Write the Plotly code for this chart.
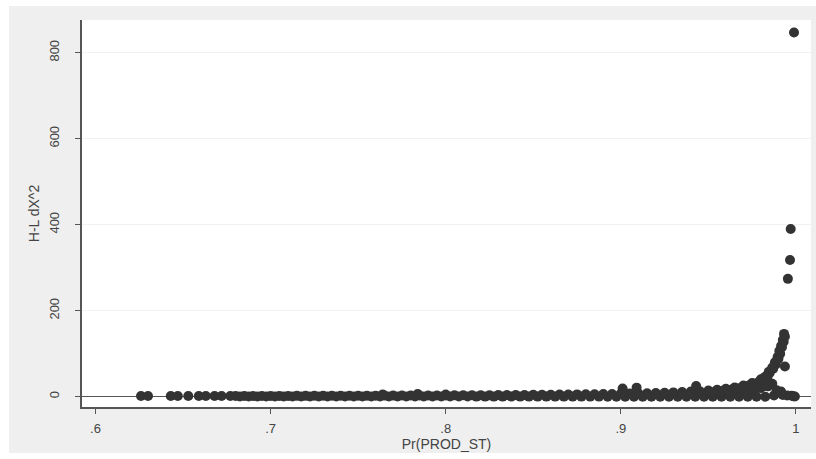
import plotly.graph_objects as go

# ---- data ----
left_x = [0.626, 0.630, 0.643, 0.647, 0.653, 0.659, 0.663, 0.668, 0.672, 0.677]
left_y = [1.5, 1.5, 1.5, 1.5, 1.6, 1.6, 1.6, 1.6, 1.6, 1.6]

upper_x = [0.680, 0.685, 0.690, 0.695, 0.700, 0.705, 0.710, 0.715, 0.720, 0.725,
           0.730, 0.735, 0.740, 0.745, 0.750, 0.755, 0.760, 0.765, 0.770, 0.775,
           0.780, 0.785, 0.790, 0.795, 0.800, 0.805, 0.810, 0.815, 0.820, 0.825,
           0.830, 0.835, 0.840, 0.845, 0.850, 0.855, 0.860, 0.865, 0.870, 0.875,
           0.880, 0.885, 0.890, 0.895, 0.900, 0.905, 0.910, 0.915, 0.920, 0.925,
           0.930, 0.935, 0.940, 0.945, 0.950, 0.955, 0.960, 0.965, 0.970, 0.975,
           0.980, 0.982, 0.9835, 0.985, 0.987, 0.9885, 0.990, 0.991, 0.992, 0.993, 0.9937]
upper_y = [1.6, 1.6, 1.7, 1.7, 1.8, 1.8, 1.8, 1.9, 1.9, 2.0,
           2.0, 2.1, 2.1, 2.2, 2.3, 2.3, 2.4, 2.5, 2.5, 2.6,
           2.7, 2.8, 2.9, 2.9, 3.0, 3.1, 3.2, 3.3, 3.4, 3.5,
           3.7, 3.8, 3.9, 4.1, 4.3, 4.4, 4.6, 4.8, 5.0, 5.3,
           5.5, 5.8, 6.1, 6.4, 6.8, 7.2, 7.6, 8.1, 8.6, 9.3,
           10.0, 10.8, 11.8, 12.9, 14.3, 16.0, 18.5, 21.5, 26.0, 32.0,
           40.5, 45.0, 50.0, 55.0, 65.0, 75.0, 88.0, 100.0, 115.0, 128.0, 140.0]

curve2_x = [0.9845, 0.9865, 0.9880, 0.9895, 0.9905, 0.9915, 0.9925, 0.9932]
curve2_y = [58, 68, 80, 92, 106, 118, 132, 146]

fill_x = [0.950, 0.955, 0.960, 0.965, 0.970, 0.975, 0.980, 0.984,
          0.9525, 0.9575, 0.9625, 0.9675, 0.9725, 0.9775, 0.9825, 0.9865,
          0.989, 0.9915, 0.9937]
fill_y = [7, 8, 9, 11, 13, 16, 20, 24,
          10, 12, 14, 17, 20, 25, 32, 30,
          15, 12, 70]

fill2_x = [0.9512, 0.9537, 0.9562, 0.9587, 0.9612, 0.9637, 0.9662, 0.9687, 0.9712, 0.9737,
           0.9762, 0.9787, 0.9812, 0.9837]
fill2_y = [5, 5, 6, 7, 8, 9, 10, 12, 14, 16, 18, 21, 24, 28]
fill3_y = [10, 11, 12, 14, 15, 17, 19, 21, 24, 27, 30, 34, 38, 44]

lower_x = [0.6825, 0.6875, 0.6925, 0.6975, 0.7025, 0.7075, 0.7125, 0.7175, 0.7225, 0.7275,
           0.7325, 0.7375, 0.7425, 0.7475, 0.7525, 0.7575, 0.7625, 0.7675, 0.7725, 0.7775,
           0.7825, 0.7875, 0.7925, 0.7975, 0.8025, 0.8075, 0.8125, 0.8175, 0.8225, 0.8275,
           0.8325, 0.8375, 0.8425, 0.8475, 0.8525, 0.8575, 0.8625, 0.8675, 0.8725, 0.8775,
           0.8825, 0.8875, 0.8925, 0.8975, 0.9025, 0.9075, 0.9125, 0.9175, 0.9225, 0.9275,
           0.9325, 0.9375, 0.9425, 0.9475, 0.9525, 0.9575, 0.9625, 0.9675, 0.9725, 0.9775,
           0.9825, 0.9875, 0.9925, 0.995, 0.9975, 0.9985, 0.9994]
lower_y = [0.47, 0.45, 0.44, 0.43, 0.42, 0.41, 0.40, 0.39, 0.38, 0.37,
           0.36, 0.35, 0.34, 0.33, 0.33, 0.32, 0.31, 0.30, 0.29, 0.28,
           0.28, 0.27, 0.26, 0.25, 0.25, 0.24, 0.23, 0.22, 0.21, 0.21,
           0.20, 0.19, 0.19, 0.18, 0.17, 0.17, 0.16, 0.15, 0.15, 0.14,
           0.13, 0.13, 0.12, 0.11, 0.11, 0.10, 0.10, 0.09, 0.08, 0.08,
           0.07, 0.07, 0.06, 0.06, 0.05, 0.04, 0.04, 0.03, 0.03, 0.02,
           0.02, 3.0, 4.0, 3.0, 2.0, 1.0, 0.5]

bump_x = [0.764, 0.784, 0.800, 0.901, 0.909, 0.943]
bump_y = [5, 6, 5, 19, 21, 25]

outlier_x = [0.9954, 0.9966, 0.9970, 0.9989]
outlier_y = [274, 318, 390, 847]

x_ticks = [0.6, 0.7, 0.8, 0.9, 1.0]
x_tick_labels = [".6", ".7", ".8", ".9", "1"]
y_ticks = [0, 200, 400, 600, 800]
y_tick_labels = ["0", "200", "400", "600", "800"]

MARK = "#333333"
fig = go.Figure()
for xs, ys in [(left_x, left_y), (lower_x, lower_y), (upper_x, upper_y),
               (curve2_x, curve2_y), (fill_x, fill_y), (fill2_x, fill2_y),
               (fill2_x, fill3_y), (bump_x, bump_y), (outlier_x, outlier_y)]:
    fig.add_trace(go.Scatter(x=xs, y=ys, mode="markers", showlegend=False,
                             marker=dict(size=10, color=MARK, line=dict(width=0))))

L, T, W, H = 82, 20, 729, 387
def px(x):
    return (x - L) / W
def py(y):
    return (T + H - y) / H

fig.update_layout(
    width=816, height=459,
    margin=dict(l=L, r=816 - L - W, t=T, b=459 - T - H),
    paper_bgcolor="white", plot_bgcolor="white",
    font=dict(family="Liberation Sans, Arial, sans-serif", color="#444444", size=13),
    shapes=[
        dict(type="rect", xref="paper", yref="paper", layer="below",
             x0=px(9), x1=px(816), y0=py(453), y1=py(6),
             fillcolor="#efefef", line=dict(width=0)),
        dict(type="rect", xref="paper", yref="paper", layer="below",
             x0=0, x1=1, y0=0, y1=1, fillcolor="white", line=dict(width=0)),
    ],
)
fig.update_xaxes(
    range=[0.5923, 1.0086], tickvals=x_ticks, ticktext=x_tick_labels,
    showgrid=False, zeroline=False, showline=True, linecolor="#555555", linewidth=1.5,
    ticks="outside", ticklen=5, tickcolor="#555555", tickwidth=1, ticklabelstandoff=4,
    title=dict(text="Pr(PROD_ST)", font=dict(size=14), standoff=2),
)
fig.update_yaxes(
    range=[-24, 876], tickvals=y_ticks, ticktext=y_tick_labels, tickangle=-90,
    showgrid=True, gridcolor="#f2f2f2", gridwidth=1,
    zeroline=True, zerolinecolor="#555555", zerolinewidth=1,
    showline=True, linecolor="#555555", linewidth=1.5,
    ticks="outside", ticklen=5, tickcolor="#555555", tickwidth=1, ticklabelstandoff=11,
    title=dict(text="H-L dX^2", font=dict(size=14), standoff=4),
)

fig.write_html("out.html")
